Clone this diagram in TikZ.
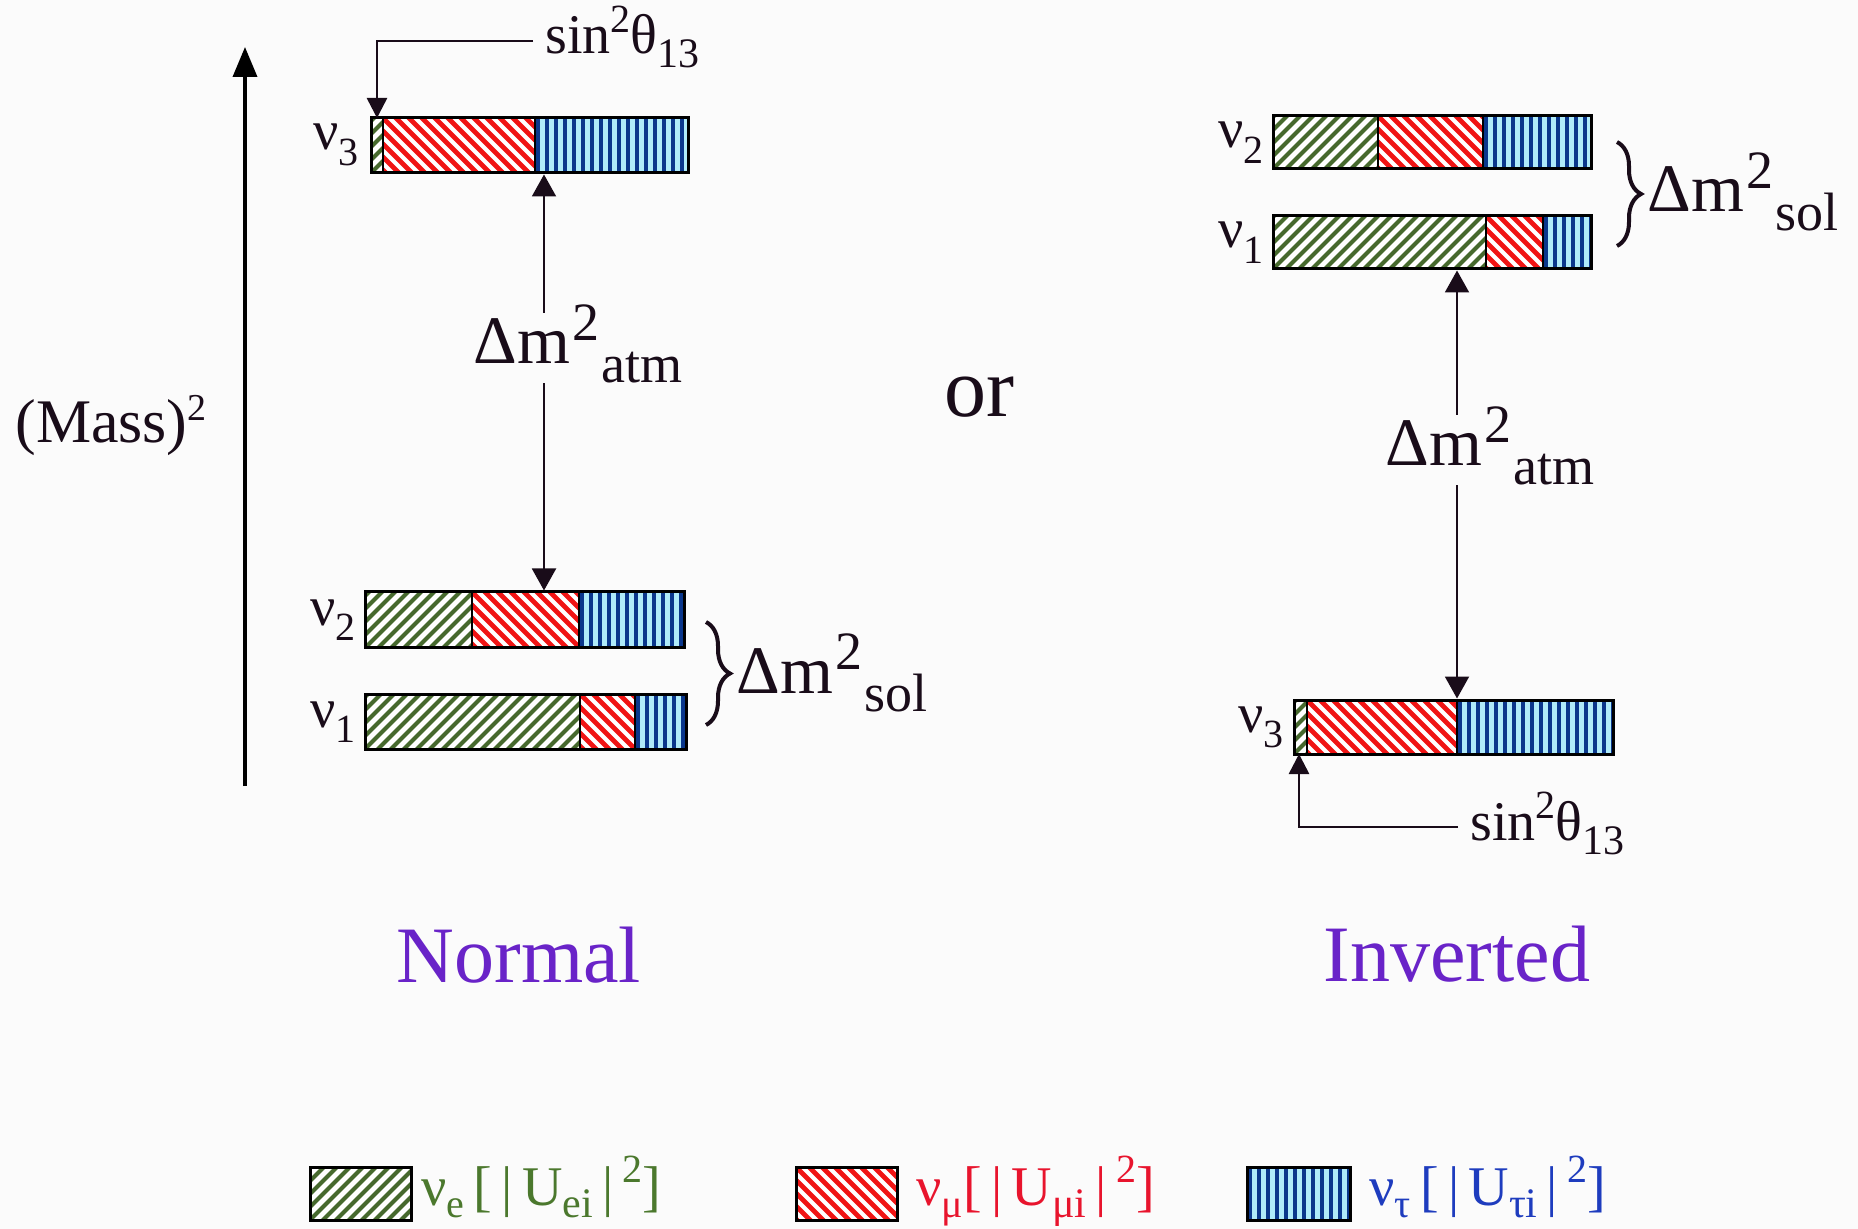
\documentclass[tikz,border=0pt]{standalone}
\usepackage{fontspec}
\setmainfont{Liberation Serif}
\usetikzlibrary{arrows.meta,decorations.pathreplacing,fit}
\definecolor{bg}{RGB}{251,251,251}
\definecolor{gstr}{RGB}{70,105,45}
\definecolor{rstr}{RGB}{240,20,20}
\definecolor{bdark}{RGB}{10,55,140}
\definecolor{blight}{RGB}{175,235,250}
\definecolor{purp}{RGB}{105,35,200}
\definecolor{txtg}{RGB}{75,120,45}
\definecolor{txtr}{RGB}{232,20,45}
\definecolor{txtb}{RGB}{30,60,190}
\definecolor{ink}{RGB}{25,12,25}
\newcommand\fs[1]{\fontsize{#1}{#1}\selectfont}
\newcommand\sups[3][0.4em]{\raisebox{#1}{\fs{#2}#3}}
\newcommand\subs[3][0.28em]{\raisebox{-#1}{\fs{#2}#3}}
\newcommand\patG[4]{\begin{scope}\clip (#1,#2) rectangle (#3,#4);
  \fill[white] (#1,#2) rectangle (#3,#4);
  \foreach \s in {0,13,...,430}{\draw[gstr,line width=2pt] ({#1+\s-70},{#4+5}) -- ++(70,-70);}
  \end{scope}}
\newcommand\patR[4]{\begin{scope}\clip (#1,#2) rectangle (#3,#4);
  \fill[white] (#1,#2) rectangle (#3,#4);
  \foreach \s in {0,13,...,430}{\draw[rstr,line width=2.4pt] ({#1+\s-70},{#2-5}) -- ++(70,70);}
  \end{scope}}
\newcommand\patB[4]{\begin{scope}\clip (#1,#2) rectangle (#3,#4);
  \fill[blight] (#1,#2) rectangle (#3,#4);
  \foreach \s in {3,12,...,400}{\draw[bdark,line width=2pt] ({#1+\s},{#2-2}) -- ({#1+\s},{#4+2});}
  \end{scope}}
\newcommand\nubar[7]{%
  \patG{#2}{#3}{#6}{#5}%
  \patR{#6}{#3}{#7}{#5}%
  \patB{#7}{#3}{#4}{#5}%
  \draw[line width=1pt] (#6,#3) -- (#6,#5) (#7,#3) -- (#7,#5);
  \node[barframe, fit={(#2,#3) (#4,#5)}] (#1) {};}
\begin{document}
\begin{tikzpicture}[x=0.5pt,y=-0.5pt,
  barframe/.style={draw=black, line width=1.5pt, inner sep=0pt},
  txt/.style={inner sep=0pt, text=ink},
  nulab/.style={txt, anchor=base east, font=\fs{28}},
  dmlab/.style={txt, anchor=base west, font=\fs{34}},
  atmarrow/.style={line width=1pt, draw=ink, -{Triangle[width=12pt,length=11pt]}},
  sinarrow/.style={line width=1.3pt, draw=ink, -{Triangle[width=10pt,length=10pt]}},
  massarrow/.style={line width=1.8pt, draw=black, -{Triangle[width=12pt,length=15pt]}},
  bracestyle/.style={draw=ink, line width=2pt, decorate, decoration={brace, amplitude=12pt}},
  title/.style={inner sep=0pt, anchor=base, text=purp, font=\fs{40}},
  legtxt/.style={inner sep=0pt, anchor=base west, font=\fs{28}}]
\fill[bg] (0,0) rectangle (1858,1229);
\useasboundingbox (0,0) rectangle (1858,1229);

% mass axis
\coordinate (mbot) at (245,786);
\coordinate (mtop) at (245,47);
\draw[massarrow] (mbot) -- (mtop);
\node[txt, anchor=base west, font=\fs{31}] (mass) at (15,443) {(Mass)\sups[0.36em]{19}{2}};

% ---------- Normal ----------
\nubar{n3}{371}{118}{688}{173}{383}{535}
\nubar{n2}{365}{592}{684}{648}{472}{579}
\nubar{n1}{365}{694}{686}{749}{580}{635}
\node[nulab] (l3n) at (359,150) {ν\subs{20}{3}};
\node[nulab] (l2n) at (356,625) {ν\subs{20}{2}};
\node[nulab] (l1n) at (356,727) {ν\subs{20}{1}};

\node[txt, anchor=base west, font=\fs{28}] (sinN) at (545,54) {sin\sups[0.38em]{20}{2}θ\subs[0.25em]{21}{13}};
\coordinate (sN) at (533,41);
\coordinate (gN) at (377,118);
\draw[sinarrow] (sN) -| (gN);

\coordinate (axN) at (544,0);
\node[dmlab] (atmN) at (473,364) {Δm\kern1pt\sups[0.34em]{27}{2}\kern1pt\subs[0.27em]{27}{atm}};
\draw[atmarrow] ([yshift=-4pt]atmN.north -| axN) -- (n3.south -| axN);
\draw[atmarrow] (atmN.south -| axN) -- (n2.north -| axN);

\draw[bracestyle] (706,622) -- (706,725);
\node[dmlab] (solN) at (736,693) {Δm\kern1pt\sups[0.34em]{27}{2}\kern1pt\subs[0.27em]{27}{sol}};

\node[title] (normal) at (519,982) {Normal};

\node[txt, anchor=base, font=\fs{42}] (or) at (979,417) {or};

% ---------- Inverted ----------
\nubar{i2}{1273}{116}{1591}{169}{1378}{1483}
\nubar{i1}{1273}{216}{1591}{269}{1486}{1543}
\nubar{i3}{1294}{700}{1613}{754}{1307}{1457}
\node[nulab] (l2i) at (1264,148) {ν\subs{20}{2}};
\node[nulab] (l1i) at (1264,248) {ν\subs{20}{1}};
\node[nulab] (l3i) at (1284,732) {ν\subs{20}{3}};

\draw[bracestyle] (1617,142) -- (1617,246);
\node[dmlab] (solI) at (1647,212) {Δm\kern1pt\sups[0.34em]{27}{2}\kern1pt\subs[0.27em]{27}{sol}};

\coordinate (axI) at (1457,0);
\node[dmlab] (atmI) at (1385,466) {Δm\kern1pt\sups[0.34em]{27}{2}\kern1pt\subs[0.27em]{27}{atm}};
\draw[atmarrow] ([yshift=-4pt]atmI.north -| axI) -- (i1.south -| axI);
\draw[atmarrow] (atmI.south -| axI) -- (i3.north -| axI);

\coordinate (sI) at (1458,827);
\coordinate (gI) at (1299,754);
\draw[sinarrow] (sI) -| (gI);
\node[txt, anchor=base west, font=\fs{28}] (sinI) at (1470,840) {sin\sups[0.38em]{20}{2}θ\subs[0.25em]{21}{13}};

\node[title] (inverted) at (1457,981) {Inverted};

% ---------- Legend ----------
\patG{310}{1167}{411}{1220}
\node[barframe, fit={(310,1167) (411,1220)}] (legGbox) {};
\node[legtxt, text=txtg] (legG) at (421,1205) {ν\subs[0.22em]{20}{e}\,[\,|\,U\subs[0.22em]{21}{ei}\,|\,\sups{20}{2}]};
\patR{796}{1167}{897}{1220}
\node[barframe, fit={(796,1167) (897,1220)}] (legRbox) {};
\node[legtxt, text=txtr] (legR) at (916,1205) {ν\subs[0.22em]{20}{μ}[\,|\,U\subs[0.22em]{21}{μi}\,|\,\sups{20}{2}]};
\patB{1247}{1167}{1350}{1220}
\node[barframe, fit={(1247,1167) (1350,1220)}] (legBbox) {};
\node[legtxt, text=txtb] (legB) at (1369,1205) {ν\subs[0.22em]{20}{τ}\,[\,|\,U\subs[0.22em]{21}{τi}\,|\,\sups{20}{2}]};
\end{tikzpicture}
\end{document}
